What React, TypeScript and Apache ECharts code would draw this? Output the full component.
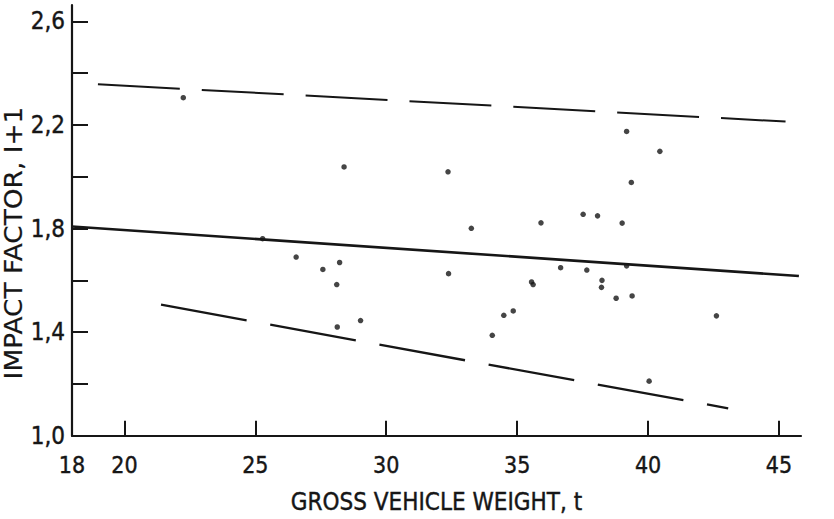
import React, { useEffect, useRef } from "react";
import * as echarts from "echarts";

// Measured impact factor (I+1) against gross vehicle weight (t)
const weights = [
  22.25, 25.28, 26.56, 27.58, 28.22, 28.11, 28.13, 28.39, 29.02, 32.36, 32.38,
  33.25, 34.05, 34.49, 34.85, 35.55, 35.61, 35.91, 36.66, 37.52, 37.66, 38.07,
  38.24, 38.22, 38.78, 39.01, 39.18, 39.36, 39.39, 39.18, 40.04, 40.45, 42.61,
];
const factors = [
  2.305, 1.761, 1.69, 1.642, 1.669, 1.584, 1.42, 2.038, 1.445, 2.019, 1.626,
  1.801, 1.388, 1.465, 1.482, 1.594, 1.584, 1.822, 1.649, 1.855, 1.64, 1.849,
  1.6, 1.573, 1.531, 1.821, 2.175, 1.978, 1.54, 1.656, 1.211, 2.098, 1.463,
];

// Mean trend and envelope lines: [start, end] as [weight, factor]
const meanLine = [[18, 1.808], [45.76, 1.617]];
const upperBound = [[18.99, 2.357], [45.25, 2.213]];
const lowerBound = [[21.4, 1.506], [43.06, 1.106]];

const xTickValues = [20, 25, 30, 35, 40, 45];
const xLabelValues = [18, 20, 25, 30, 35, 40, 45];
const yTickValues = [1.2, 1.4, 1.6, 1.8, 2.0, 2.2, 2.4, 2.6];
const yLabelValues = [1.0, 1.4, 1.8, 2.2, 2.6];

const FONT = "'DejaVu Sans Condensed', 'DejaVu Sans', sans-serif";
const INK = "#161616";

export default function App() {
  const ref = useRef<HTMLDivElement>(null);

  useEffect(() => {
    if (!ref.current) return;
    const chart = echarts.init(ref.current, null, { renderer: "svg" });
    const points = weights.map((w, i) => [w, factors[i]]);
    const textInk = { color: INK, textBorderColor: INK, textBorderWidth: 0.4 };

    chart.setOption({
      animation: false,
      backgroundColor: "#ffffff",
      grid: { left: 72, right: 33, top: 5, bottom: 68 },
      xAxis: {
        type: "value",
        min: 18,
        max: 45.84,
        name: "GROSS VEHICLE WEIGHT, t",
        nameLocation: "middle",
        nameGap: 54,
        nameTextStyle: { fontFamily: FONT, fontSize: 24, ...textInk },
        axisLine: { show: true, lineStyle: { color: INK, width: 2.2 } },
        axisTick: {
          show: true,
          inside: true,
          length: 15,
          customValues: xTickValues,
          lineStyle: { color: INK, width: 2 },
        },
        axisLabel: {
          customValues: xLabelValues,
          margin: 18,
          fontFamily: FONT,
          fontSize: 23,
          ...textInk,
          formatter: (v: number) => String(Math.round(v)),
        },
        splitLine: { show: false },
      },
      yAxis: {
        type: "value",
        min: 1.0,
        max: 2.663,
        axisLine: { show: true, lineStyle: { color: INK, width: 2.2 } },
        axisTick: {
          show: true,
          inside: true,
          length: 16,
          customValues: yTickValues,
          lineStyle: { color: INK, width: 2 },
        },
        axisLabel: {
          customValues: yLabelValues,
          margin: 7,
          fontFamily: FONT,
          fontSize: 24,
          ...textInk,
          formatter: (v: number) => v.toFixed(1).replace(".", ","),
        },
        splitLine: { show: false },
      },
      graphic: [
        {
          type: "text",
          x: 14,
          y: 243,
          rotation: Math.PI / 2,
          scaleX: 1.1,
          style: {
            text: "IMPACT FACTOR, I+1",
            fontFamily: "'DejaVu Sans', sans-serif",
            fontSize: 24,
            fill: INK,
            stroke: INK,
            lineWidth: 0.2,
            align: "center",
            verticalAlign: "middle",
          },
        },
      ],
      series: [
        {
          type: "line",
          data: meanLine,
          symbol: "none",
          lineStyle: { color: INK, width: 2.6 },
          silent: true,
        },
        {
          type: "line",
          data: upperBound,
          symbol: "none",
          lineStyle: { color: INK, width: 2, type: [82, 22] },
          silent: true,
        },
        {
          type: "line",
          data: lowerBound,
          symbol: "none",
          lineStyle: { color: INK, width: 2.3, type: [87, 24] },
          silent: true,
        },
        {
          type: "scatter",
          data: points,
          symbol: "circle",
          symbolSize: 5.5,
          itemStyle: { color: INK },
        },
      ],
    });

    return () => chart.dispose();
  }, []);

  return (
    <div
      ref={ref}
      style={{ position: "fixed", left: 0, top: 0, width: 834, height: 519, background: "#fff" }}
    />
  );
}
